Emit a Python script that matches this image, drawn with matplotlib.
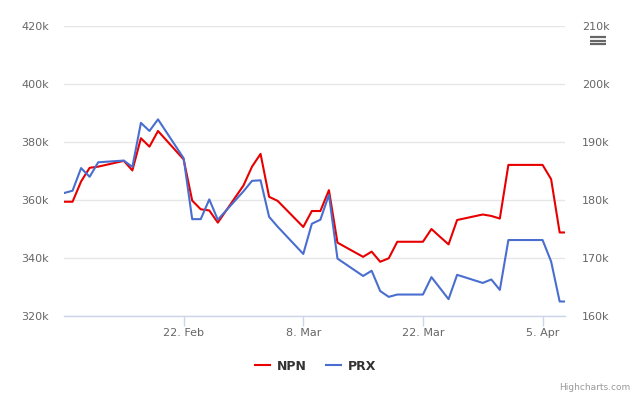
import numpy as np
import pandas as pd
import matplotlib
matplotlib.use("Agg")
from matplotlib import pyplot as plt
from matplotlib.ticker import FuncFormatter, FixedLocator
from matplotlib.lines import Line2D

# trading days (last one is intraday)
dates = pd.to_datetime([
    "2021-02-08", "2021-02-09", "2021-02-10", "2021-02-11", "2021-02-12",
    "2021-02-15", "2021-02-16", "2021-02-17", "2021-02-18", "2021-02-19",
    "2021-02-22", "2021-02-23", "2021-02-24", "2021-02-25", "2021-02-26",
    "2021-03-01", "2021-03-02", "2021-03-03", "2021-03-04", "2021-03-05",
    "2021-03-08", "2021-03-09", "2021-03-10", "2021-03-11", "2021-03-12",
    "2021-03-15", "2021-03-16", "2021-03-17", "2021-03-18", "2021-03-19",
    "2021-03-22", "2021-03-23", "2021-03-24", "2021-03-25", "2021-03-26",
    "2021-03-29", "2021-03-30", "2021-03-31", "2021-04-01", "2021-04-02",
    "2021-04-05", "2021-04-06", "2021-04-07", "2021-04-07 15:00",
], format="mixed")

# NPN (left axis), thousands
npn = [359.4, 359.4, 366.4, 371.1, 371.5,
       373.5, 370.2, 381.3, 378.4, 383.8,
       374.0, 359.8, 356.8, 356.4, 352.2,
       365.0, 371.5, 375.9, 361.1, 359.7,
       350.7, 356.2, 356.2, 363.4, 345.3,
       340.4, 342.2, 338.7, 339.9, 345.6,
       345.6, 350.0, 347.3, 344.7, 353.1,
       355.0, 354.5, 353.6, 372.1, 372.1,
       372.1, 367.2, 348.8, 348.8]

# PRX (right axis), thousands
prx = [181.2, 181.6, 185.5, 184.0, 186.5,
       186.8, 185.7, 193.3, 191.9, 193.9,
       187.2, 176.7, 176.7, 180.1, 176.6,
       181.5, 183.3, 183.4, 177.1, 175.4,
       170.7, 175.9, 176.6, 180.9, 169.9,
       166.9, 167.8, 164.3, 163.3, 163.7,
       163.7, 166.7, 164.8, 162.9, 167.1,
       165.7, 166.3, 164.5, 173.1, 173.1,
       173.1, 169.4, 162.5, 162.5]

x_ticks = pd.to_datetime(["2021-02-22", "2021-03-08", "2021-03-22", "2021-04-05"])
x_labels = ["22. Feb", "8. Mar", "22. Mar", "5. Apr"]
left_ticks = [320, 340, 360, 380, 400, 420]
right_ticks = [160, 170, 180, 190, 200, 210]

RED = "#e80000"
BLUE = "#4a6ecf"
GRID = "#e6e6e6"
AXIS = "#ccd6eb"
LABEL = "#666666"

plt.rcParams["font.family"] = ["DejaVu Sans"]

fig = plt.figure(figsize=(6.4, 3.95), dpi=100)
ax = fig.add_axes([64 / 640, 1 - 316 / 395, 501 / 640, 290 / 395])
ax2 = ax.twinx()

ax.plot(dates, npn, color=RED, lw=1.5, label="NPN", solid_joinstyle="round")
ax2.plot(dates, prx, color=BLUE, lw=1.5, label="PRX", solid_joinstyle="round")

ax.set_xlim(dates[0], dates[-1])
ax.set_ylim(320, 420)
ax2.set_ylim(160, 210)

kfmt = FuncFormatter(lambda v, p: f"{int(v)}k")
ax.yaxis.set_major_locator(FixedLocator(left_ticks))
ax2.yaxis.set_major_locator(FixedLocator(right_ticks))
ax.yaxis.set_major_formatter(kfmt)
ax2.yaxis.set_major_formatter(kfmt)

ax.set_xticks(x_ticks)
ax.set_xticklabels(x_labels)

for a in (ax, ax2):
    for s in a.spines.values():
        s.set_visible(False)
ax.spines["bottom"].set_visible(True)
ax.spines["bottom"].set_color(AXIS)
ax.spines["bottom"].set_linewidth(1)

ax.grid(axis="y", color=GRID, lw=1)
ax.set_axisbelow(True)
ax.tick_params(axis="y", length=0, pad=11, labelsize=8, labelcolor=LABEL)
ax2.tick_params(axis="y", length=0, pad=12, labelsize=8, labelcolor=LABEL)
ax.tick_params(axis="x", length=7, width=1, color=AXIS, pad=2, labelsize=8, labelcolor=LABEL)
for lab in ax2.get_yticklabels():
    lab.set_horizontalalignment("left")

# legend
h1, l1 = ax.get_legend_handles_labels()
h2, l2 = ax2.get_legend_handles_labels()
leg = fig.legend(h1 + h2, l1 + l2, loc="center", bbox_to_anchor=(0.493, 0.073),
                 ncol=2, frameon=False, handlelength=1.2, handletextpad=0.5,
                 columnspacing=1.6, prop={"weight": "bold", "size": 9})
for t in leg.get_texts():
    t.set_color("#333333")

# credit
fig.text(630 / 640, 1 - 387 / 395, "Highcharts.com", ha="right", va="center",
         fontsize=6.5, color="#999999")

# menu icon
for yy in (37, 40.5, 44):
    fig.add_artist(Line2D([590 / 640, 606 / 640], [1 - yy / 395, 1 - yy / 395],
                          transform=fig.transFigure, color="#666666", lw=1.6,
                          solid_capstyle="butt"))

fig.savefig("out.png", dpi=100)
